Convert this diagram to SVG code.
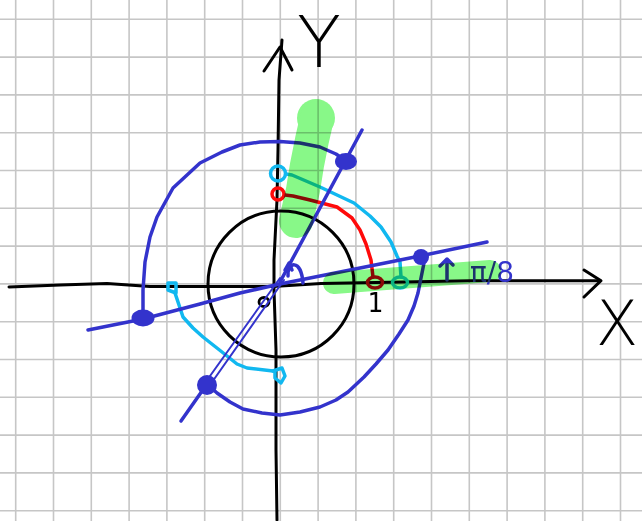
<svg xmlns="http://www.w3.org/2000/svg" width="642" height="521" viewBox="0 0 642 521">
<style>
.grid line{stroke:#c6c6c6;stroke-width:1.6}
.ink{fill:none;stroke-linecap:round;stroke-linejoin:round}
.blk{stroke:#000;stroke-width:3}
.blu{stroke:#3333cc;stroke-width:3.5}
.cya{stroke:#11b8f0;stroke-width:3.5}
.red{stroke:#ff0a0a;stroke-width:3.5}
.dot{fill:#3333cc}
.hl{fill:#88f888;stroke:none}
</style>
<rect width="642" height="521" fill="#fff"/>
<g id="grid" class="grid">
<line x1="15.7" y1="0" x2="15.7" y2="521"/><line x1="53.5" y1="0" x2="53.5" y2="521"/><line x1="91.3" y1="0" x2="91.3" y2="521"/><line x1="129.1" y1="0" x2="129.1" y2="521"/><line x1="166.9" y1="0" x2="166.9" y2="521"/><line x1="204.7" y1="0" x2="204.7" y2="521"/><line x1="242.5" y1="0" x2="242.5" y2="521"/><line x1="280.3" y1="0" x2="280.3" y2="521"/><line x1="318.1" y1="0" x2="318.1" y2="521"/><line x1="355.9" y1="0" x2="355.9" y2="521"/><line x1="393.7" y1="0" x2="393.7" y2="521"/><line x1="431.5" y1="0" x2="431.5" y2="521"/><line x1="469.3" y1="0" x2="469.3" y2="521"/><line x1="507.1" y1="0" x2="507.1" y2="521"/><line x1="544.9" y1="0" x2="544.9" y2="521"/><line x1="582.7" y1="0" x2="582.7" y2="521"/><line x1="620.5" y1="0" x2="620.5" y2="521"/>
<line x1="0" y1="19.3" x2="642" y2="19.3"/><line x1="0" y1="57.1" x2="642" y2="57.1"/><line x1="0" y1="94.9" x2="642" y2="94.9"/><line x1="0" y1="132.7" x2="642" y2="132.7"/><line x1="0" y1="170.5" x2="642" y2="170.5"/><line x1="0" y1="208.3" x2="642" y2="208.3"/><line x1="0" y1="246.1" x2="642" y2="246.1"/><line x1="0" y1="283.9" x2="642" y2="283.9"/><line x1="0" y1="321.7" x2="642" y2="321.7"/><line x1="0" y1="359.5" x2="642" y2="359.5"/><line x1="0" y1="397.3" x2="642" y2="397.3"/><line x1="0" y1="435.1" x2="642" y2="435.1"/><line x1="0" y1="472.9" x2="642" y2="472.9"/><line x1="0" y1="510.7" x2="642" y2="510.7"/>
</g>
<g id="axes" class="ink blk">
<path d="M9,287 L60,285 L107,283.5 L150,286.5 L273,286.5 L321,283.5 L471,280.7 L600,280.7"/>
<path d="M584,270 L601,280.7 L584,297"/>
<path d="M282,40 L279,80 L278,150 L277,200 L274,260 L274,290 L276,350 L276,450 L277,520"/>
<path d="M264,71 L280,47 L292,70"/>
</g>
<g id="unit-circle" class="ink blk">
<ellipse cx="281" cy="284" rx="73" ry="73"/>
</g>
<g id="origin-mark" class="ink blk"><ellipse cx="264" cy="302" rx="5" ry="4.5" stroke-width="2.8"/></g>
<g id="red-arc" class="ink red">
<path d="M285,195 L293,196 L310,200 L337,207 L352,218 L360,230 L366,244 L371,260 L373,277"/>
<circle cx="278" cy="194" r="6"/>
<ellipse cx="375" cy="282.5" rx="7.5" ry="5.5"/>
</g>
<g id="cyan-arcs" class="ink cya">
<path d="M286,174 L292,175 L320,187 L354,203 L370,216 L381,227 L391,242 L397,256 L400,262 L401,277"/>
<circle cx="278" cy="173.5" r="7.5"/>
<ellipse cx="400" cy="282.5" rx="7.5" ry="5.5"/>
<path d="M175,293 L179,305 L183,317 L193,328 L203,337 L222,352 L237,364 L247,368 L273,371"/>
<path d="M176,293 L168,290 L168,283 L176,283 L176,293"/>
<path d="M273,371 L282,368 L285,376 L281,383 L275,378 L275,371"/>
</g>
<g id="blue-arcs" class="ink blu">
<path d="M143,318 L143,290 L145,262 L150,237 L157,217 L173,188 L200,163 L222,152 L240,145 L260,142 L280,141.5 L300,143 L320,147 L336,154 L346,161"/>
<path d="M207,384 L217,393 L230,402 L243,409 L262,413 L280,415 L300,412 L320,407 L336,400 L348,392 L364,377 L376,364 L388,350 L399,334 L408,320 L414,306 L418,293 L421,278 L424,263"/>
</g>
<g id="blue-lines" class="ink blu">
<path d="M88,330 L143,319 L200,304 L240,293 L280,284 L320,276 L420,256 L487,242"/>
<path d="M181,421 L207,384"/>
<path d="M280,282 L362,130"/>
<path d="M205,383 L280,278" stroke-width="2"/>
<path d="M210,385 L284,280" stroke-width="2"/>
</g>
<g id="points">
<ellipse class="dot" cx="346" cy="161.5" rx="11" ry="8.5"/>
<ellipse class="dot" cx="143" cy="318" rx="11.5" ry="8.5"/>
<circle class="dot" cx="207" cy="385" r="10"/>
<circle class="dot" cx="421" cy="257" r="8"/>
</g>
<g id="angle-marks" class="ink blu" stroke-width="3">
<path d="M288,276 C287,262 301,258 303,283"/>
<path d="M285,270 L289,263 L292,270"/>
<path d="M447,280 L447,260 M440,266 L447,259 L453,265"/>
</g>
<g id="labels" font-family="DejaVu Sans, sans-serif">
<text x="319" y="67" font-size="72" font-weight="200" text-anchor="middle" fill="#000">Y</text>
<text x="617" y="345" font-size="62" font-weight="200" text-anchor="middle" fill="#000">X</text>
<text x="375" y="312" font-size="26" font-family="DejaVu Sans Mono, monospace" text-anchor="middle" fill="#000">1</text>
<text x="470" y="282" font-size="28" fill="#3333cc">π/8</text>
</g>
<g id="highlights" style="mix-blend-mode:multiply">
<circle class="hl" cx="316" cy="118" r="19"/>
<path d="M317,118 L312,140 L307,165 L303,190 L296,221" fill="none" stroke="#88f888" stroke-width="34" stroke-linecap="round" stroke-linejoin="round"/>
<path d="M334,283 L490,271" fill="none" stroke="#88f888" stroke-width="22" stroke-linecap="round"/>
</g>
</svg>
